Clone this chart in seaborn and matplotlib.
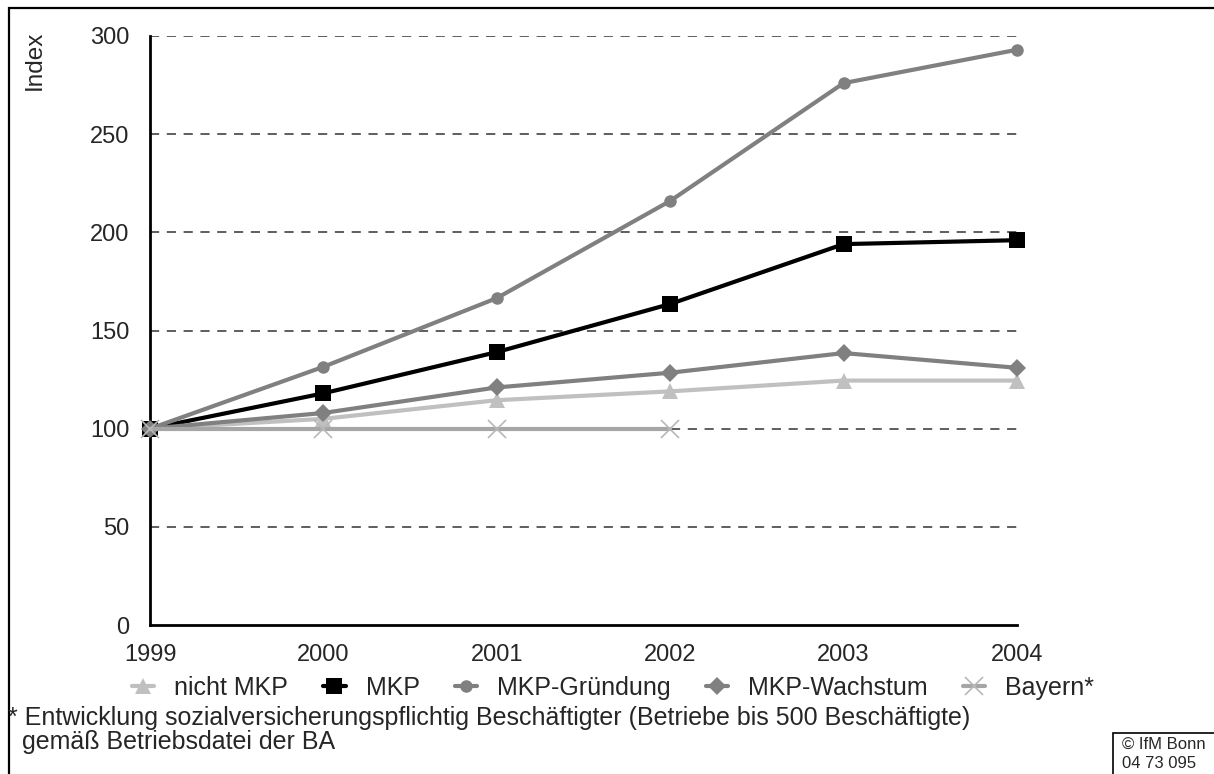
import matplotlib
matplotlib.use("Agg")
import matplotlib.pyplot as plt
import seaborn as sns
import pandas as pd
from matplotlib.patches import Rectangle

years = [1999, 2000, 2001, 2002, 2003, 2004]
nicht_mkp = [100, 105, 114.5, 119, 124.5, 124.5]
mkp = [100, 118, 139, 163.5, 194, 196]
mkp_gruendung = [100, 131.5, 166.5, 216, 276, 293]
mkp_wachstum = [100, 108, 121, 128.5, 138.5, 131]
bayern_years = [1999, 2000, 2001, 2002]
bayern = [100, 100, 100, 100]

yticks = [0, 50, 100, 150, 200, 250, 300]
footnote = ("* Entwicklung sozialversicherungspflichtig Beschäftigter (Betriebe bis 500 Beschäftigte)\n"
            "  gemäß Betriebsdatei der BA")

sns.set_theme(style="white")
plt.rcParams['font.family'] = ['Liberation Sans', 'DejaVu Sans']

fig = plt.figure(figsize=(12.14, 7.74), dpi=100)
ax = fig.add_axes([150 / 1214, 1 - 625 / 774, (1017 - 150) / 1214, (625 - 36) / 774])

# dashed grid lines
for y in yticks[1:]:
    ax.axhline(y, color="#333333", lw=1.1, ls=(0, (6, 5)), zorder=0)

series = [
    ("nicht MKP", years, nicht_mkp, "#c0c0c0", "^", 12, 3),
    ("MKP", years, mkp, "#000000", "s", 12, 3),
    ("MKP-Gründung", years, mkp_gruendung, "#808080", "o", 9, 3),
    ("MKP-Wachstum", years, mkp_wachstum, "#808080", "D", 9, 3),
    ("Bayern*", bayern_years, bayern, "#a6a6a6", "x", 13, 3),
]

for label, xs, ys, color, marker, ms, lw in series:
    df = pd.DataFrame({"Jahr": xs, "Index": ys})
    sns.lineplot(data=df, x="Jahr", y="Index", ax=ax, color=color, lw=lw,
                 marker=marker, markersize=ms, markeredgecolor=color if marker != "x" else "#b8b8b8",
                 markeredgewidth=1.2 if marker == "x" else 0, label=label, clip_on=False, zorder=3)

ax.set_xlim(1999, 2004)
ax.set_ylim(0, 300)
ax.set_yticks(yticks)
ax.set_xticks(years)
ax.set_xticklabels([str(y) for y in years], fontsize=17)
ax.set_yticklabels([str(y) for y in yticks], fontsize=17)
ax.tick_params(axis="x", length=0, pad=14)
ax.tick_params(axis="y", length=0, pad=15)
ax.set_xlabel("")
ax.set_ylabel("")
for side in ["top", "right"]:
    ax.spines[side].set_visible(False)
for side in ["left", "bottom"]:
    ax.spines[side].set_color("black")
    ax.spines[side].set_linewidth(2)

fig.text(35 / 1214, 1 - 31 / 774, "Index", rotation=90, fontsize=17.5, ha="center", va="top")

ax.legend(loc="center", bbox_to_anchor=(0.505, 1 - 688 / 774), bbox_transform=fig.transFigure,
          ncol=5, frameon=False, fontsize=18, handlelength=0.9, columnspacing=1.4,
          handletextpad=0.8, borderaxespad=0)

fig.text(8 / 1214, 1 - 706 / 774, footnote, fontsize=18, ha="left", va="top", linespacing=1.02)

# outer frame
fig.patches.append(Rectangle((9 / 1214, -0.05), 1.1, 1 - 8 / 774 + 0.05, transform=fig.transFigure,
                             fill=False, edgecolor="black", lw=1.6, figure=fig))
# copyright box
fig.patches.append(Rectangle((1113 / 1214, -0.05), 0.2, 0.05 + 1 - 733 / 774, transform=fig.transFigure,
                             fill=False, edgecolor="black", lw=1.2, figure=fig))
fig.text(1122 / 1214, 1 - 737 / 774, "© IfM Bonn\n04 73 095", fontsize=12, ha="left", va="top",
         linespacing=1.35)

fig.savefig("out.png", dpi=100, facecolor="white")
